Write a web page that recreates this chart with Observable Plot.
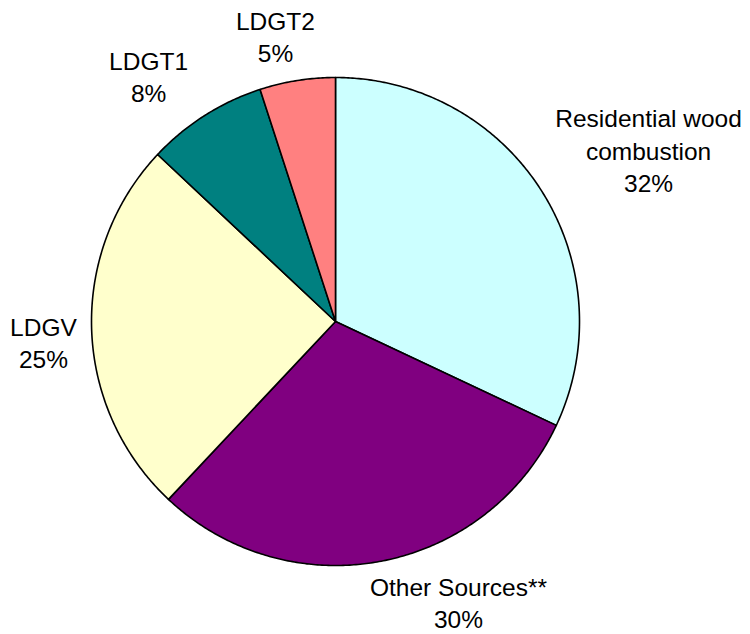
<!DOCTYPE html>
<html>
<head>
<meta charset="utf-8">
<script src="https://cdn.jsdelivr.net/npm/d3@7"></script>
<script src="https://cdn.jsdelivr.net/npm/@observablehq/plot@0.6"></script>
<style>
  html, body { margin: 0; padding: 0; background: #fff; }
  #chart { width: 750px; height: 634px; }
</style>
</head>
<body>
<div id="chart"></div>
<script>
// Data (clockwise from 12 o'clock)
const categories = ["Residential wood\ncombustion", "Other Sources**", "LDGV", "LDGT1", "LDGT2"];
const shares = [32, 30, 25, 8, 5];
const percentLabels = ["32%", "30%", "25%", "8%", "5%"];
const sliceColors = ["#CCFFFF", "#800080", "#FFFFCC", "#008080", "#FF8080"];

// Label layout (data units, pie radius = 1)
const labelLayout = [
  [1.283, 0.705],
  [0.504, -1.148],
  [-1.197, -0.082],
  [-0.766, 1.008],
  [-0.246, 1.172]
];

const pie = d3.pie().sort(null).value(d => d)(shares);

const slicePts = [];
pie.forEach((p, i) => {
  const name = categories[i];
  slicePts.push({name, x: 0, y: 0});
  const steps = Math.max(2, Math.ceil((p.endAngle - p.startAngle) / (Math.PI / 360)));
  for (let k = 0; k <= steps; k++) {
    const a = p.startAngle + (p.endAngle - p.startAngle) * k / steps;
    slicePts.push({name, x: Math.sin(a), y: Math.cos(a)});
  }
});

const labels = categories.map((c, i) => ({
  text: c + "\n" + percentLabels[i],
  x: labelLayout[i][0],
  y: labelLayout[i][1]
}));

const chart = Plot.plot({
  width: 750,
  height: 634,
  marginLeft: 91,
  marginRight: 171,
  marginTop: 77,
  marginBottom: 69,
  x: {domain: [-1, 1], axis: null},
  y: {domain: [-1, 1], axis: null},
  color: {type: "ordinal", domain: categories, range: sliceColors},
  style: {fontFamily: "Arial, 'Liberation Sans', sans-serif", background: "#fff"},
  marks: [
    Plot.line(slicePts, {x: "x", y: "y", z: "name", fill: "name", stroke: "#000", strokeWidth: 1.6, curve: "linear-closed", strokeLinejoin: "round"}),
    Plot.text(labels, {x: "x", y: "y", text: "text", fontSize: 24.5, lineHeight: 1.33, lineAnchor: "middle", textAnchor: "middle", fill: "#000"})
  ]
});
document.getElementById("chart").appendChild(chart);
</script>
</body>
</html>
